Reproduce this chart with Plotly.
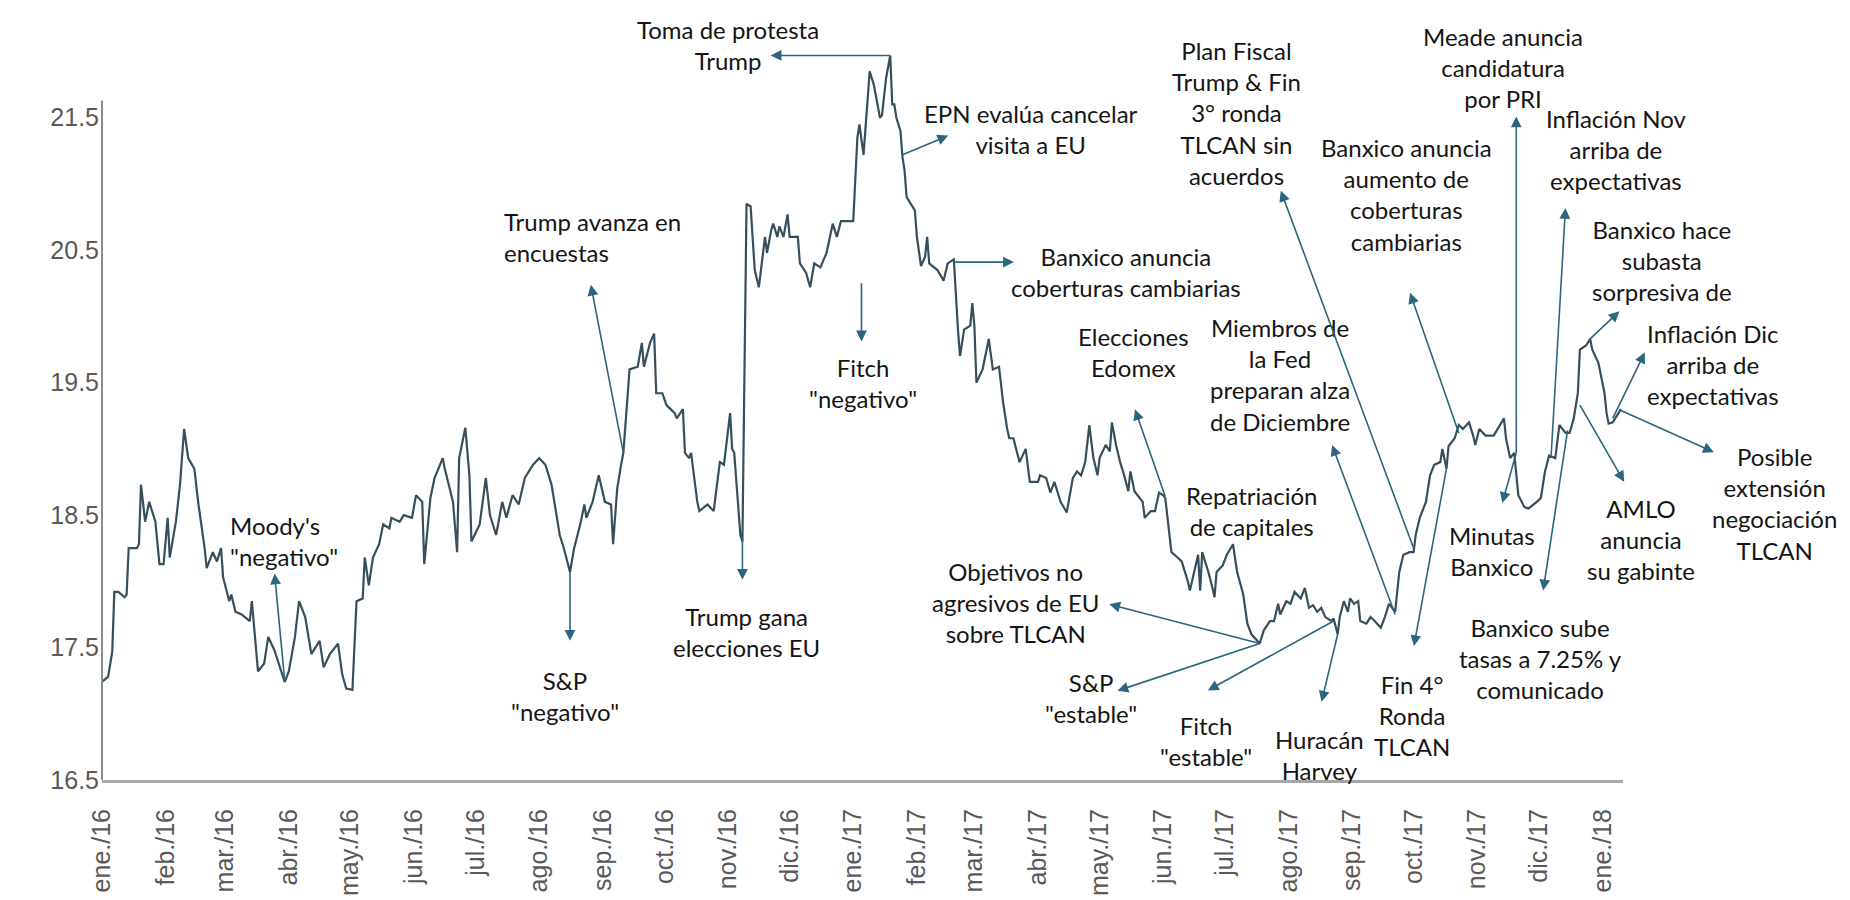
import plotly.graph_objects as go

# ---------------- data ----------------
dates = [
    "2016-01-01", "2016-01-04", "2016-01-06", "2016-01-07", "2016-01-09", "2016-01-12", "2016-01-13",
    "2016-01-14", "2016-01-18", "2016-01-19", "2016-01-20", "2016-01-22", "2016-01-24", "2016-01-27",
    "2016-01-29", "2016-01-31", "2016-02-02", "2016-02-03", "2016-02-06", "2016-02-08", "2016-02-10",
    "2016-02-12", "2016-02-15", "2016-02-17", "2016-02-20", "2016-02-21", "2016-02-24", "2016-02-26",
    "2016-02-28", "2016-02-29", "2016-03-03", "2016-03-04", "2016-03-06", "2016-03-09", "2016-03-13",
    "2016-03-14", "2016-03-17", "2016-03-20", "2016-03-22", "2016-03-25", "2016-03-30", "2016-04-01",
    "2016-04-04", "2016-04-06", "2016-04-09", "2016-04-12", "2016-04-16", "2016-04-18", "2016-04-21",
    "2016-04-25", "2016-04-27", "2016-04-29", "2016-05-02", "2016-05-04", "2016-05-07", "2016-05-08",
    "2016-05-10", "2016-05-12", "2016-05-15", "2016-05-17", "2016-05-20", "2016-05-21", "2016-05-25",
    "2016-05-27", "2016-05-31", "2016-06-02", "2016-06-05", "2016-06-06", "2016-06-09", "2016-06-11",
    "2016-06-15", "2016-06-16", "2016-06-20", "2016-06-22", "2016-06-23", "2016-06-26", "2016-06-28",
    "2016-06-29", "2016-07-03", "2016-07-06", "2016-07-08", "2016-07-11", "2016-07-14", "2016-07-16",
    "2016-07-19", "2016-07-22", "2016-07-25", "2016-07-29", "2016-08-01", "2016-08-04", "2016-08-07",
    "2016-08-11", "2016-08-13", "2016-08-16", "2016-08-18", "2016-08-21", "2016-08-23", "2016-08-24",
    "2016-08-27", "2016-08-30", "2016-09-02", "2016-09-05", "2016-09-06", "2016-09-08", "2016-09-10",
    "2016-09-11", "2016-09-14", "2016-09-18", "2016-09-20", "2016-09-21", "2016-09-24", "2016-09-26",
    "2016-09-27", "2016-09-30", "2016-10-02", "2016-10-06", "2016-10-07", "2016-10-10", "2016-10-11",
    "2016-10-13", "2016-10-14", "2016-10-17", "2016-10-18", "2016-10-22", "2016-10-25", "2016-10-28",
    "2016-10-30", "2016-11-02", "2016-11-03", "2016-11-04", "2016-11-07", "2016-11-08", "2016-11-10",
    "2016-11-12", "2016-11-14", "2016-11-16", "2016-11-19", "2016-11-20", "2016-11-22", "2016-11-23",
    "2016-11-25", "2016-11-26", "2016-11-28", "2016-11-30", "2016-12-01", "2016-12-05", "2016-12-06",
    "2016-12-09", "2016-12-11", "2016-12-13", "2016-12-16", "2016-12-19", "2016-12-22", "2016-12-24",
    "2016-12-26", "2016-12-29", "2017-01-01", "2017-01-03", "2017-01-04", "2017-01-06", "2017-01-09",
    "2017-01-11", "2017-01-14", "2017-01-15", "2017-01-17", "2017-01-19", "2017-01-20", "2017-01-21",
    "2017-01-22", "2017-01-24", "2017-01-25", "2017-01-26", "2017-01-27", "2017-01-31", "2017-02-01",
    "2017-02-03", "2017-02-05", "2017-02-06", "2017-02-07", "2017-02-11", "2017-02-14", "2017-02-16",
    "2017-02-19", "2017-02-21", "2017-02-22", "2017-02-24", "2017-02-27", "2017-02-28", "2017-03-01",
    "2017-03-02", "2017-03-05", "2017-03-08", "2017-03-10", "2017-03-13", "2017-03-15", "2017-03-17",
    "2017-03-18", "2017-03-20", "2017-03-23", "2017-03-26", "2017-03-28", "2017-04-01", "2017-04-02",
    "2017-04-05", "2017-04-07", "2017-04-09", "2017-04-12", "2017-04-15", "2017-04-18", "2017-04-20",
    "2017-04-22", "2017-04-24", "2017-04-26", "2017-04-28", "2017-04-30", "2017-05-01", "2017-05-04",
    "2017-05-06", "2017-05-07", "2017-05-09", "2017-05-11", "2017-05-13", "2017-05-15", "2017-05-16",
    "2017-05-18", "2017-05-22", "2017-05-23", "2017-05-26", "2017-05-28", "2017-05-30", "2017-06-01",
    "2017-06-02", "2017-06-04", "2017-06-05", "2017-06-08", "2017-06-10", "2017-06-13", "2017-06-14",
    "2017-06-18", "2017-06-19", "2017-06-20", "2017-06-23", "2017-06-25", "2017-06-26", "2017-06-27",
    "2017-06-30", "2017-07-02", "2017-07-05", "2017-07-07", "2017-07-10", "2017-07-12", "2017-07-14",
    "2017-07-18", "2017-07-20", "2017-07-23", "2017-07-25", "2017-07-27", "2017-07-28", "2017-07-31",
    "2017-08-02", "2017-08-04", "2017-08-07", "2017-08-09", "2017-08-10", "2017-08-11", "2017-08-13",
    "2017-08-15", "2017-08-17", "2017-08-19", "2017-08-22", "2017-08-23", "2017-08-25", "2017-08-26",
    "2017-08-28", "2017-08-30", "2017-08-31", "2017-09-02", "2017-09-04", "2017-09-05", "2017-09-08",
    "2017-09-10", "2017-09-12", "2017-09-15", "2017-09-17", "2017-09-19", "2017-09-22", "2017-09-23",
    "2017-09-24", "2017-09-26", "2017-09-29", "2017-10-01", "2017-10-02", "2017-10-04", "2017-10-07",
    "2017-10-09", "2017-10-11", "2017-10-14", "2017-10-15", "2017-10-17", "2017-10-18", "2017-10-21",
    "2017-10-23", "2017-10-25", "2017-10-28", "2017-10-30", "2017-10-31", "2017-11-02", "2017-11-05",
    "2017-11-09", "2017-11-11", "2017-11-14", "2017-11-15", "2017-11-17", "2017-11-19", "2017-11-21",
    "2017-11-24", "2017-11-26", "2017-11-30", "2017-12-02", "2017-12-04", "2017-12-06", "2017-12-09",
    "2017-12-11", "2017-12-14", "2017-12-16", "2017-12-18", "2017-12-20", "2017-12-21", "2017-12-24",
    "2017-12-26", "2017-12-27", "2017-12-30", "2017-12-31", "2018-01-02", "2018-01-03", "2018-01-04",
    "2018-01-06", "2018-01-08", "2018-01-10",
]

usdmxn = [
    17.24, 17.28, 17.47, 17.92, 17.92, 17.88, 17.90,
    18.25, 18.25, 18.28, 18.73, 18.45, 18.60, 18.45,
    18.13, 18.13, 18.48, 18.18, 18.45, 18.73, 19.15,
    18.93, 18.85, 18.58, 18.25, 18.10, 18.22, 18.15,
    18.25, 18.03, 17.85, 17.90, 17.77, 17.75, 17.70,
    17.85, 17.32, 17.38, 17.58, 17.48, 17.24, 17.32,
    17.58, 17.85, 17.73, 17.45, 17.55, 17.35, 17.45,
    17.53, 17.30, 17.19, 17.18, 17.85, 17.87, 18.18,
    17.97, 18.18, 18.28, 18.43, 18.40, 18.48, 18.45,
    18.50, 18.48, 18.65, 18.60, 18.13, 18.63, 18.78,
    18.93, 18.85, 18.60, 18.22, 18.93, 19.16, 18.80,
    18.30, 18.43, 18.78, 18.50, 18.35, 18.60, 18.48,
    18.65, 18.58, 18.78, 18.88, 18.93, 18.88, 18.73,
    18.35, 18.25, 18.07, 18.25, 18.43, 18.58, 18.48,
    18.60, 18.80, 18.60, 18.58, 18.28, 18.70, 18.89,
    18.97, 19.60, 19.62, 19.80, 19.62, 19.80, 19.87,
    19.42, 19.42, 19.33, 19.27, 19.23, 19.30, 18.97,
    18.93, 18.97, 18.60, 18.53, 18.58, 18.53, 18.90,
    18.88, 19.27, 19.00, 18.97, 18.35, 18.30, 20.85,
    20.83, 20.35, 20.22, 20.60, 20.48, 20.65, 20.70,
    20.60, 20.68, 20.60, 20.77, 20.60, 20.60, 20.40,
    20.33, 20.22, 20.40, 20.37, 20.48, 20.70, 20.60,
    20.72, 20.72, 20.72, 21.35, 21.45, 21.22, 21.85,
    21.75, 21.50, 21.52, 21.80, 21.97, 21.60, 21.60,
    21.50, 21.40, 21.20, 21.10, 20.90, 20.80, 20.60,
    20.38, 20.45, 20.60, 20.40, 20.35, 20.27, 20.40,
    20.43, 19.90, 19.70, 19.90, 19.93, 20.10, 19.93,
    19.50, 19.60, 19.83, 19.60, 19.62, 19.35, 19.15,
    19.08, 19.08, 18.90, 19.00, 18.75, 18.75, 18.80,
    18.78, 18.67, 18.75, 18.60, 18.52, 18.78, 18.83,
    18.80, 18.90, 19.18, 18.93, 18.80, 18.93, 19.03,
    18.98, 19.20, 19.03, 18.90, 18.80, 18.68, 18.83,
    18.68, 18.60, 18.48, 18.53, 18.53, 18.67, 18.65,
    18.63, 18.35, 18.22, 18.18, 18.15, 18.00, 17.93,
    18.20, 17.93, 18.22, 18.07, 17.95, 17.88, 18.07,
    18.12, 18.20, 18.28, 18.07, 17.90, 17.68, 17.60,
    17.53, 17.63, 17.70, 17.70, 17.83, 17.75, 17.85,
    17.83, 17.92, 17.87, 17.95, 17.88, 17.80, 17.82,
    17.77, 17.80, 17.73, 17.70, 17.72, 17.60, 17.73,
    17.85, 17.77, 17.87, 17.83, 17.85, 17.70, 17.68,
    17.73, 17.70, 17.65, 17.73, 17.83, 17.77, 17.93,
    18.07, 18.20, 18.22, 18.22, 18.35, 18.48, 18.60,
    18.80, 18.88, 18.90, 19.00, 18.85, 19.02, 19.08,
    19.18, 19.15, 19.20, 19.10, 19.03, 19.15, 19.10,
    19.10, 19.15, 19.23, 19.08, 18.93, 18.97, 18.65,
    18.56, 18.55, 18.60, 18.63, 18.83, 18.95, 18.93,
    19.18, 19.12, 19.12, 19.23, 19.42, 19.75, 19.78,
    19.83, 19.75, 19.65, 19.58, 19.42, 19.27, 19.19,
    19.20, 19.25, 19.30,
]

month_ticks = [
    "2016-01-01", "2016-02-01", "2016-03-01", "2016-04-01", "2016-05-01", "2016-06-01",
    "2016-07-01", "2016-08-01", "2016-09-01", "2016-10-01", "2016-11-01", "2016-12-01",
    "2017-01-01", "2017-02-01", "2017-03-01", "2017-04-01", "2017-05-01", "2017-06-01",
    "2017-07-01", "2017-08-01", "2017-09-01", "2017-10-01", "2017-11-01", "2017-12-01",
    "2018-01-01",
]
month_labels = [
    "ene./16", "feb./16", "mar./16", "abr./16", "may./16", "jun./16",
    "jul./16", "ago./16", "sep./16", "oct./16", "nov./16", "dic./16",
    "ene./17", "feb./17", "mar./17", "abr./17", "may./17", "jun./17",
    "jul./17", "ago./17", "sep./17", "oct./17", "nov./17", "dic./17",
    "ene./18",
]
y_ticks = [16.5, 17.5, 18.5, 19.5, 20.5, 21.5]

# ---------------- styling ----------------
W, H = 1850, 900
L, R, T, B = 94, 235, 17, 123
LINE_COLOR = "#374f5c"
ARROW_COLOR = "#2b6580"
TEXT_COLOR = "#151515"
TICK_COLOR = "#595959"
TEXT_FONT = "Lato, Carlito, 'Open Sans', sans-serif"
TICK_FONT = "'Liberation Sans', Arial, sans-serif"

fig = go.Figure()
fig.add_trace(go.Scatter(
    x=dates, y=usdmxn, mode="lines",
    line=dict(color=LINE_COLOR, width=2.2),
    hoverinfo="skip", showlegend=False,
))


def P(px, py):
    """reference pixel position -> paper coordinates"""
    return (px - L) / (W - L - R), ((H - B) - py) / (H - B - T)


# text blocks: (text, center-x px, middle-y px, align)
texts = [
    ("Toma de protesta<br>Trump", 720, 37, "center"),
    ("EPN evalúa cancelar<br>visita a EU", 1023, 122, "center"),
    ("Banxico anuncia<br>coberturas cambiarias", 1118, 266, "center"),
    ("Fitch<br>\"negativo\"", 855, 377, "center"),
    ("Trump gana<br>elecciones EU", 738, 628, "center"),
    ("Trump avanza en<br>encuestas", 494, 230, "left"),
    ("Moody's<br>\"negativo\"", 220, 536, "left"),
    ("S&P<br>\"negativo\"", 557, 692, "center"),
    ("Elecciones<br>Edomex", 1125, 346, "center"),
    ("Miembros de<br>la Fed<br>preparan alza<br>de Diciembre", 1272, 369, "center"),
    ("Repatriación<br>de capitales", 1243, 506, "center"),
    ("Objetivos no<br>agresivos de EU<br>sobre TLCAN", 1007, 598, "center"),
    ("S&P<br>\"estable\"", 1083, 694, "center"),
    ("Fitch<br>\"estable\"", 1198, 738, "center"),
    ("Huracán<br>Harvey", 1311, 752, "center"),
    ("Fin 4°<br>Ronda<br>TLCAN", 1404, 712, "center"),
    ("Plan Fiscal<br>Trump & Fin<br>3° ronda<br>TLCAN sin<br>acuerdos", 1228, 106, "center"),
    ("Banxico anuncia<br>aumento de<br>coberturas<br>cambiarias", 1398, 188, "center"),
    ("Meade anuncia<br>candidatura<br>por PRI", 1495, 60, "center"),
    ("Minutas<br>Banxico", 1484, 546, "center"),
    ("Inflación Nov<br>arriba de<br>expectativas", 1608, 142, "center"),
    ("Banxico sube<br>tasas a 7.25% y<br>comunicado", 1532, 655, "center"),
    ("Banxico hace<br>subasta<br>sorpresiva de", 1654, 254, "center"),
    ("Inflación Dic<br>arriba de<br>expectativas", 1705, 359, "center"),
    ("AMLO<br>anuncia<br>su gabinte", 1633, 535, "center"),
    ("Posible<br>extensión<br>negociación<br>TLCAN", 1766, 499, "center"),
]

# arrows: (tail on the series: date, value) -> (head: date, value)
arrows = [
    ("2017-01-19", 21.97, "2016-11-21", 21.97),  # Toma de protesta
    ("2017-01-25", 21.22, "2017-02-17", 21.37),  # EPN
    ("2017-02-19", 20.41, "2017-03-21", 20.41),  # Banxico coberturas
    ("2017-01-05", 20.25, "2017-01-05", 19.80),  # Fitch negativo
    ("2016-11-08", 18.33, "2016-11-08", 18.00),  # Trump gana
    ("2016-09-11", 18.97, "2016-08-26", 20.25),  # Trump avanza
    ("2016-03-30", 17.25, "2016-03-25", 18.07),  # Moody's
    ("2016-08-16", 18.07, "2016-08-16", 17.54),  # S&P negativo
    ("2017-06-02", 18.64, "2017-05-18", 19.31),  # Edomex
    ("2017-09-22", 17.75, "2017-08-22", 19.04),  # Fed
    ("2017-07-18", 17.53, "2017-05-05", 17.83),  # Objetivos
    ("2017-07-18", 17.53, "2017-05-09", 17.17),  # S&P estable
    ("2017-08-23", 17.70, "2017-06-22", 17.17),  # Fitch estable
    ("2017-08-25", 17.60, "2017-08-17", 17.08),  # Harvey
    ("2017-10-17", 18.85, "2017-10-01", 17.50),  # Fin 4 ronda
    ("2017-10-01", 18.25, "2017-07-28", 20.96),  # Plan fiscal
    ("2017-10-23", 19.12, "2017-09-29", 20.19),  # Banxico aumento
    ("2017-11-20", 18.97, "2017-11-20", 21.52),  # Meade
    ("2017-11-20", 18.97, "2017-11-13", 18.58),  # Minutas
    ("2017-12-07", 18.95, "2017-12-14", 20.83),  # Inflacion Nov
    ("2017-12-15", 19.14, "2017-12-03", 17.92),  # Banxico sube
    ("2017-12-26", 19.83, "2018-01-10", 20.05),  # subasta
    ("2018-01-06", 19.23, "2018-01-22", 19.74),  # Inflacion Dic
    ("2017-12-21", 19.33, "2018-01-12", 18.74),  # AMLO
    ("2018-01-10", 19.29, "2018-02-25", 18.97),  # Posible extension
]

annotations = []
for txt, px, py, al in texts:
    xp, yp = P(px, py)
    annotations.append(dict(
        text=txt, x=xp, y=yp, xref="paper", yref="paper",
        xanchor="left" if al == "left" else "center", yanchor="middle",
        align=al, showarrow=False,
        font=dict(family=TEXT_FONT, size=24, color=TEXT_COLOR),
    ))

for tx, ty, hx, hy in arrows:
    annotations.append(dict(
        text="", x=tx, y=ty, xref="x", yref="y",
        ax=hx, ay=hy, axref="x", ayref="y",
        showarrow=True, arrowside="start",
        startarrowhead=2, startarrowsize=1.35,
        arrowwidth=1.6, arrowcolor=ARROW_COLOR,
        standoff=0, startstandoff=0,
    ))

fig.update_layout(
    width=W, height=H,
    margin=dict(l=L, r=R, t=T, b=B),
    paper_bgcolor="white", plot_bgcolor="white",
    showlegend=False,
    annotations=annotations,
    shapes=[dict(type="line", xref="paper", yref="y", x0=0, x1=0, y0=16.5, y1=21.63,
                 line=dict(color="#8c8c8c", width=2))],
)
fig.update_xaxes(
    type="date", range=["2016-01-01", "2018-01-11"],
    tickvals=month_ticks, ticktext=month_labels, tickangle=-90,
    tickfont=dict(family=TICK_FONT, size=25, color=TICK_COLOR),
    showgrid=False, zeroline=False, ticks="",
    showline=True, linecolor="#a6a6a6", linewidth=3,
    ticklabelstandoff=16,
)
fig.update_yaxes(
    range=[16.5, 22.2],
    tickvals=y_ticks, ticktext=[f"{v:.1f}" for v in y_ticks],
    tickfont=dict(family=TICK_FONT, size=25, color=TICK_COLOR),
    showgrid=False, zeroline=False, ticks="", showline=False,
    ticklabelstandoff=2,
)

fig.write_html("out.html")
